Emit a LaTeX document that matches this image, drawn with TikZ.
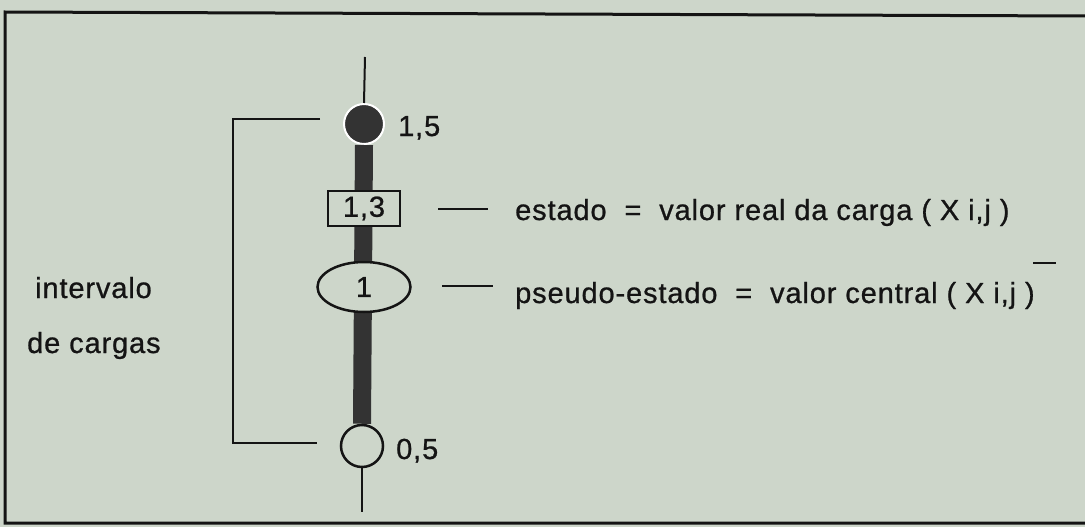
\documentclass[tikz,border=0pt]{standalone}
\usepackage{fontspec}
\setmainfont{Liberation Sans}
\newfontfamily\platefont[LetterSpace=3,FakeBold=0.8]{Liberation Sans}
\usepackage{tikz}
\usetikzlibrary{shapes.geometric,positioning}
\definecolor{PlateBg}{HTML}{CDD6CA}
\definecolor{PlateInk}{HTML}{141414}
\definecolor{PlateBar}{HTML}{333333}

\begin{document}
\begin{tikzpicture}[x=1pt, y=-1pt,
    txt/.style={font=\platefont\fontsize{29}{34}\selectfont, text=PlateInk,
      inner sep=0pt, anchor=base west},
    val/.style={font=\platefont\fontsize{29}{34}\selectfont, text=PlateInk,
      inner sep=0pt},
    rule/.style={draw=PlateInk, line width=2.5pt},
    thin/.style={draw=PlateInk, line width=2pt}
  ]
    \useasboundingbox (0,0) rectangle (1085,527);
    \fill[PlateBg] (0,0) rectangle (1085,527);
    \draw[PlateInk, line width=3pt] (1085,16) -- (5,12) -- (5,523) -- (1085,523);

    % axis of the load values
    \coordinate (axtop) at (365,57);
    \coordinate (axbot) at (362,512);
    \node[circle, fill=PlateBar, draw=white, line width=2pt, minimum size=40pt,
      inner sep=0pt] (high) at (364,124) {};
    \node[circle, draw=PlateInk, line width=2.5pt, fill=PlateBg, minimum size=42pt,
      inner sep=0pt] (low) at (362,446) {};
    \draw[PlateBar, line width=18pt] (high.south) -- (low.north);
    \draw[thin] (axtop) -- (high.north);
    \draw[thin] (low.south) -- (axbot);
    \node[val, rectangle, draw=PlateInk, line width=2.5pt, fill=PlateBg,
      minimum width=72pt, minimum height=35pt] (state) at (364,208.5) {1,3};
    \node[val, ellipse, draw=PlateInk, line width=2.5pt, fill=PlateBg,
      minimum width=93pt, minimum height=50pt] (pseudo) at (364,287) {1};
    \node[txt] (highval) at (398,136) {1,5};
    \node[txt] (lowval) at (396,459) {0,5};

    % bracket of the interval
    \coordinate (brtop) at (320,119);
    \coordinate (brbot) at (317,443);
    \draw[rule] (brtop) -- (233,119) -- (233,443) -- (brbot);
    \node[txt] (intv) at (35,298) {intervalo};
    \node[txt] (cargas) at (27,353) {de cargas};

    % explanations
    \node[txt] (statetxt) at (515,220) {estado~ = ~valor real da carga ( X i,j )};
    \node[txt] (pseudotxt) at (515,303) {pseudo-estado~ = ~valor central ( X i,j )};
    \draw[rule] (438,209) -- (488,209);
    \draw[rule] (442,286) -- (493,286);
    \draw[rule] (1033,263) -- (1056,263);
  \end{tikzpicture}
\end{document}
